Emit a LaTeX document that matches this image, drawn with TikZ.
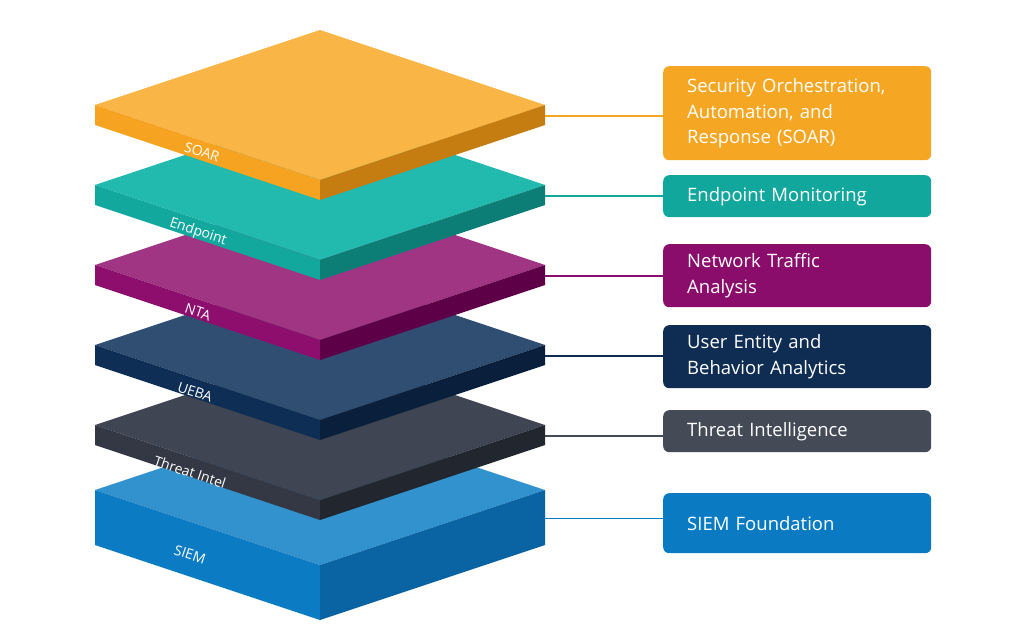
\documentclass[tikz,border=0pt]{standalone}
\usepackage{fontspec}
\setmainfont{Open Sans}
\begin{document}
\begin{tikzpicture}[x=1pt,y=-1pt,
  box/.style={rounded corners=6pt,minimum width=268pt,anchor=north west,inner sep=0pt,text=white,font=\fontsize{18.5}{25.5}\selectfont,align=left,text width=220pt},
  lbl/.style={text=white,font=\fontsize{14}{16}\selectfont,rotate=-18.4,inner sep=0pt},
  conn/.style={line width=1.2pt}]
\useasboundingbox (0,0) rectangle (1024,636);
\newcommand{\slab}[9]{%
  \fill[#3] (95,#1) -- (320,#1-75) -- (545,#1) -- (320,#1+75) -- cycle;
  \fill[#4] (95,#1) -- (320,#1+75) -- (320,#1+75+#2) -- (95,#1+#2) -- cycle;
  \fill[#5] (320,#1+75) -- (545,#1) -- (545,#1+#2) -- (320,#1+75+#2) -- cycle;
  \node[lbl] (l#8) at (#7,#1+37+#2/2) {#6};
  \coordinate (c#8) at (545,#1+#2/2+1);
}
\definecolor{soarT}{HTML}{F9B545}\definecolor{soarL}{HTML}{F5A320}\definecolor{soarR}{HTML}{C57C10}\definecolor{soarB}{HTML}{F5A623}
\definecolor{endT}{HTML}{22B9AF}\definecolor{endL}{HTML}{13A89D}\definecolor{endR}{HTML}{0C7E76}\definecolor{endB}{HTML}{11A79C}
\definecolor{ntaT}{HTML}{A03583}\definecolor{ntaL}{HTML}{8D0E6D}\definecolor{ntaR}{HTML}{5E0048}\definecolor{ntaB}{HTML}{8B0D6B}
\definecolor{ueT}{HTML}{304E72}\definecolor{ueL}{HTML}{0E2E55}\definecolor{ueR}{HTML}{0A1F3C}\definecolor{ueB}{HTML}{0F2D52}
\definecolor{thT}{HTML}{3F4552}\definecolor{thL}{HTML}{333844}\definecolor{thR}{HTML}{22262F}\definecolor{thB}{HTML}{444A56}
\definecolor{siT}{HTML}{3192CE}\definecolor{siL}{HTML}{0B7CC3}\definecolor{siR}{HTML}{0A63A2}\definecolor{siB}{HTML}{0A7BC2}
\slab{490}{55}{siT}{siL}{siR}{SIEM}{190}{si}{siB}
\slab{425}{20}{thT}{thL}{thR}{Threat Intel}{190}{th}{thB}
\slab{345}{20}{ueT}{ueL}{ueR}{UEBA}{195}{ue}{ueB}
\slab{265}{20}{ntaT}{ntaL}{ntaR}{NTA}{198}{nta}{ntaB}
\slab{185}{20}{endT}{endL}{endR}{Endpoint}{198}{end}{endB}
\slab{105}{20}{soarT}{soarL}{soarR}{SOAR}{202}{soar}{soarB}
\node[box,fill=soarB,minimum height=94pt] (bsoar) at (663,66) {Security Orchestration,\\Automation, and\\Response (SOAR)};
\node[box,fill=endB,minimum height=42pt] (bend) at (663,175) {Endpoint Monitoring};
\node[box,fill=ntaB,minimum height=63pt] (bnta) at (663,244) {Network Traffic\\Analysis};
\node[box,fill=ueB,minimum height=63pt] (bue) at (663,325) {User Entity and\\Behavior Analytics};
\node[box,fill=thB,minimum height=42pt] (bth) at (663,410) {Threat Intelligence};
\node[box,fill=siB,minimum height=60pt] (bsi) at (663,493) {SIEM Foundation};
\draw[conn,soarB] (csoar) -- (csoar -| bsoar.west);
\draw[conn,endB] (cend) -- (cend -| bend.west);
\draw[conn,ntaB] (cnta) -- (cnta -| bnta.west);
\draw[conn,ueB] (cue) -- (cue -| bue.west);
\draw[conn,thB] (cth) -- (cth -| bth.west);
\draw[conn,siB] (csi) -- (csi -| bsi.west);
\end{tikzpicture}
\end{document}
